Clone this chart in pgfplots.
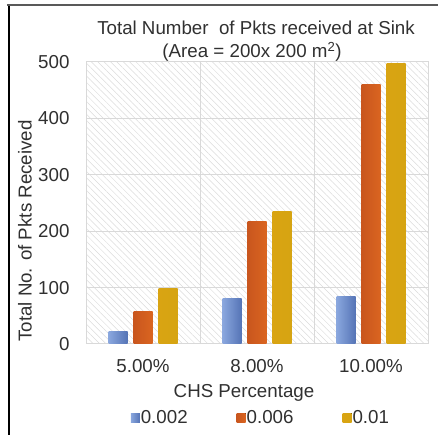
\documentclass[border=0pt]{standalone}
\usepackage{pgfplots}
\pgfplotsset{compat=1.18}
\usepackage{fontspec}
\setmainfont{Liberation Sans}
\usetikzlibrary{patterns.meta}

\definecolor{blueL}{HTML}{8AA7DE}
\definecolor{blueM}{HTML}{7696D6}
\definecolor{blueR}{HTML}{5574B6}
\definecolor{orangeL}{HTML}{C9561E}
\definecolor{orangeM}{HTML}{EE7A2E}
\definecolor{orangeR}{HTML}{DA6520}
\definecolor{yellowL}{HTML}{D9A412}
\definecolor{yellowM}{HTML}{F4C526}
\definecolor{yellowR}{HTML}{D6A412}
\definecolor{gridgray}{HTML}{D9D9D9}
\definecolor{txt}{HTML}{303030}

\newcommand{\lbl}{\fontsize{18.8}{20}\selectfont}

\pgfplotsset{
  mybar/.style={
    ybar, bar width=19bp, draw=none,
    legend image code/.code={\fill[##1] (0bp,-4.5bp) rectangle (9bp,4.5bp);}
  },
  % each bar gets its own cylinder-like shading
  bblue/.style={mybar, bar shift=-25bp, left color=blueL, middle color=blueM, right color=blueR},
  borange/.style={mybar, bar shift=0bp, left color=orangeL, middle color=orangeM, right color=orangeR},
  byellow/.style={mybar, bar shift=25bp, left color=yellowL, middle color=yellowM, right color=yellowR},
}

\begin{document}
\begin{tikzpicture}[x=1bp,y=1bp]
\useasboundingbox (0,0) rectangle (438,435);
% frame
\draw[line width=2bp, black!65] (7,430) -- (438,430);
\draw[line width=2.2bp, black] (9,428.5) -- (9,0);

\begin{axis}[
  at={(86bp,91bp)}, anchor=south west,
  scale only axis, width=342bp, height=282bp,
  xmin=-0.5, xmax=2.5, ymin=0, ymax=500,
  ytick={0,100,...,500},
  xtick={0,1,2},
  xticklabels={5.00\%,8.00\%,10.00\%},
  extra x ticks={0.5,1.5},
  extra x tick labels={},
  extra x tick style={grid=major},
  ymajorgrids,
  grid style={gridgray, line width=1bp},
  axis line style={gridgray, line width=1bp},
  major tick length=0pt,
  tick style={draw=none},
  axis background/.style={pattern={Lines[angle=-45,distance=4.5bp,line width=0.5bp]}, pattern color=black!14},
  /pgf/number format/assume math mode=true,
  ticklabel style={font=\lbl, text=txt},
  yticklabel style={xshift=-13bp},
  xticklabel style={anchor=base, yshift=-29bp},
  legend style={at={(0.51,-0.262)}, anchor=center, draw=none, fill=none,
    font=\lbl, text=txt, legend columns=3,
    /tikz/every even column/.append style={column sep=48bp},
    nodes={inner xsep=1bp}},
  legend cell align=left,
]
\addplot[bblue] coordinates {(0,22)};
\addlegendentry{0.002}
\addplot[bblue, forget plot] coordinates {(1,81)};
\addplot[bblue, forget plot] coordinates {(2,84)};

\addplot[borange] coordinates {(0,57)};
\addlegendentry{0.006}
\addplot[borange, forget plot] coordinates {(1,218)};
\addplot[borange, forget plot] coordinates {(2,460)};

\addplot[byellow] coordinates {(0,98)};
\addlegendentry{0.01}
\addplot[byellow, forget plot] coordinates {(1,235)};
\addplot[byellow, forget plot] coordinates {(2,498)};
\end{axis}

% titles and axis names
\node[font=\lbl, text=txt, anchor=base] at (256,400) {Total Number\ \ of Pkts received at Sink};
\node[font=\lbl, text=txt, anchor=base] at (252,377) {(Area = 200x 200 m\textsuperscript{2})};
\node[font=\lbl, text=txt, anchor=base] at (244,37) {CHS Percentage};
\node[font=\lbl, text=txt, rotate=90] at (25,204) {Total No. of Pkts Received};
\end{tikzpicture}
\end{document}
